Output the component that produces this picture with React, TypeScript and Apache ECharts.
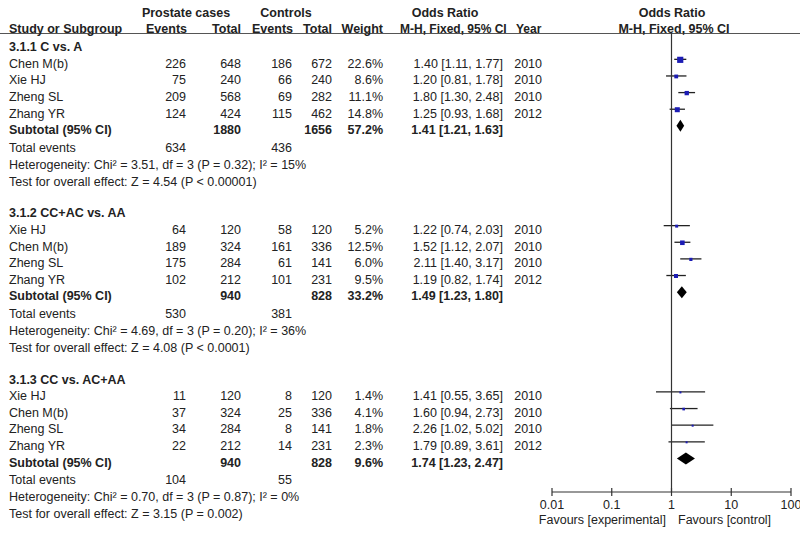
import React, { useEffect, useRef } from "react";
import * as echarts from "echarts";

// ---------- data ----------
const sectionTitles = ["3.1.1 C vs. A", "3.1.2 CC+AC vs. AA", "3.1.3 CC vs. AC+AA"];
const studyNames = [
  ["Chen M(b)", "Xie HJ", "Zheng SL", "Zhang YR"],
  ["Xie HJ", "Chen M(b)", "Zheng SL", "Zhang YR"],
  ["Xie HJ", "Chen M(b)", "Zheng SL", "Zhang YR"],
];
const caseEvents = [[226, 75, 209, 124], [64, 189, 175, 102], [11, 37, 34, 22]];
const caseTotals = [[648, 240, 568, 424], [120, 324, 284, 212], [120, 324, 284, 212]];
const ctrlEvents = [[186, 66, 69, 115], [58, 161, 61, 101], [8, 25, 8, 14]];
const ctrlTotals = [[672, 240, 282, 462], [120, 336, 141, 231], [120, 336, 141, 231]];
const weights = [[22.6, 8.6, 11.1, 14.8], [5.2, 12.5, 6.0, 9.5], [1.4, 4.1, 1.8, 2.3]];
const oddsRatios = [[1.40, 1.20, 1.80, 1.25], [1.22, 1.52, 2.11, 1.19], [1.41, 1.60, 2.26, 1.79]];
const ciLower = [[1.11, 0.81, 1.30, 0.93], [0.74, 1.12, 1.40, 0.82], [0.55, 0.94, 1.02, 0.89]];
const ciUpper = [[1.77, 1.78, 2.48, 1.68], [2.03, 2.07, 3.17, 1.74], [3.65, 2.73, 5.02, 3.61]];
const years = [[2010, 2010, 2010, 2012], [2010, 2010, 2010, 2012], [2010, 2010, 2010, 2012]];
const subtotalCaseTotals = [1880, 940, 940];
const subtotalCtrlTotals = [1656, 828, 828];
const subtotalWeights = [57.2, 33.2, 9.6];
const subtotalOR = [1.41, 1.49, 1.74];
const subtotalLower = [1.21, 1.23, 1.23];
const subtotalUpper = [1.63, 1.80, 2.47];
const totalCaseEvents = [634, 530, 104];
const totalCtrlEvents = [436, 381, 55];
const heterogeneity = [
  "Heterogeneity: Chi² = 3.51, df = 3 (P = 0.32); I² = 15%",
  "Heterogeneity: Chi² = 4.69, df = 3 (P = 0.20); I² = 36%",
  "Heterogeneity: Chi² = 0.70, df = 3 (P = 0.87); I² = 0%",
];
const overallEffect = [
  "Test for overall effect: Z = 4.54 (P < 0.00001)",
  "Test for overall effect: Z = 4.08 (P < 0.0001)",
  "Test for overall effect: Z = 3.15 (P = 0.002)",
];
const tickValues = [0.01, 0.1, 1, 10, 100];
const tickLabels = ["0.01", "0.1", "1", "10", "100"];

// ---------- layout ----------
const W = 800;
const H = 533;
const Y0 = 47; // pixel centre of first row
const RH = 16.63; // row height
const FOREST_SHIFT = -4.3; // markers sit slightly above text rows
const FOREST_TOP = 33;
const FOREST_BOTTOM = 492;
const FOREST_LEFT = 552;
const FOREST_WIDTH = 239;
const COL = { name: 9, caseEv: 186, caseTot: 241, ctrlEv: 292, ctrlTot: 332, weight: 383, or: 503, year: 542 };
const FONT = "'Liberation Sans', Arial, sans-serif";
const FS = 12.5;
const TEXT_COLOR = "#222";
const LINE_COLOR = "#333";
const rowOf = (px: number) => (px - Y0) / RH;

type Cell = { x: number; row: number; text: string; align: string; bold?: boolean; size?: number };

function buildCells(): Cell[] {
  const cells: Cell[] = [];
  const r1 = rowOf(13);
  const r2 = rowOf(29);
  cells.push({ x: 186, row: r1, text: "Prostate cases", align: "center", bold: true });
  cells.push({ x: 286, row: r1, text: "Controls", align: "center", bold: true });
  cells.push({ x: 445, row: r1, text: "Odds Ratio", align: "center", bold: true });
  cells.push({ x: 672, row: r1, text: "Odds Ratio", align: "center", bold: true });
  cells.push({ x: COL.name, row: r2, text: "Study or Subgroup", align: "left", bold: true });
  cells.push({ x: COL.caseEv + 1, row: r2, text: "Events", align: "right", bold: true });
  cells.push({ x: COL.caseTot, row: r2, text: "Total", align: "right", bold: true });
  cells.push({ x: COL.ctrlEv + 1, row: r2, text: "Events", align: "right", bold: true });
  cells.push({ x: COL.ctrlTot, row: r2, text: "Total", align: "right", bold: true });
  cells.push({ x: COL.weight, row: r2, text: "Weight", align: "right", bold: true });
  cells.push({ x: 400, row: r2, text: "M-H, Fixed, 95% CI", align: "left", bold: true, size: 12 });
  cells.push({ x: 516, row: r2, text: "Year", align: "left", bold: true, size: 12 });
  cells.push({ x: 674, row: r2, text: "M-H, Fixed, 95% CI", align: "center", bold: true });

  for (let s = 0; s < 3; s++) {
    const base = s * 10;
    cells.push({ x: COL.name, row: base, text: sectionTitles[s], align: "left", bold: true });
    for (let i = 0; i < 4; i++) {
      const r = base + 1 + i;
      cells.push({ x: COL.name, row: r, text: studyNames[s][i], align: "left" });
      cells.push({ x: COL.caseEv, row: r, text: String(caseEvents[s][i]), align: "right" });
      cells.push({ x: COL.caseTot, row: r, text: String(caseTotals[s][i]), align: "right" });
      cells.push({ x: COL.ctrlEv, row: r, text: String(ctrlEvents[s][i]), align: "right" });
      cells.push({ x: COL.ctrlTot, row: r, text: String(ctrlTotals[s][i]), align: "right" });
      cells.push({ x: COL.weight, row: r, text: weights[s][i].toFixed(1) + "%", align: "right" });
      cells.push({
        x: COL.or,
        row: r,
        text: `${oddsRatios[s][i].toFixed(2)} [${ciLower[s][i].toFixed(2)}, ${ciUpper[s][i].toFixed(2)}]`,
        align: "right",
      });
      cells.push({ x: COL.year, row: r, text: String(years[s][i]), align: "right" });
    }
    const rs = base + 5;
    cells.push({ x: COL.name, row: rs, text: "Subtotal (95% CI)", align: "left", bold: true });
    cells.push({ x: COL.caseTot, row: rs, text: String(subtotalCaseTotals[s]), align: "right", bold: true });
    cells.push({ x: COL.ctrlTot, row: rs, text: String(subtotalCtrlTotals[s]), align: "right", bold: true });
    cells.push({ x: COL.weight, row: rs, text: subtotalWeights[s].toFixed(1) + "%", align: "right", bold: true });
    cells.push({
      x: COL.or,
      row: rs,
      text: `${subtotalOR[s].toFixed(2)} [${subtotalLower[s].toFixed(2)}, ${subtotalUpper[s].toFixed(2)}]`,
      align: "right",
      bold: true,
    });
    const rt = base + 6.05;
    cells.push({ x: COL.name, row: rt, text: "Total events", align: "left" });
    cells.push({ x: COL.caseEv, row: rt, text: String(totalCaseEvents[s]), align: "right" });
    cells.push({ x: COL.ctrlEv, row: rt, text: String(totalCtrlEvents[s]), align: "right" });
    cells.push({ x: COL.name, row: base + 7.08, text: heterogeneity[s], align: "left" });
    cells.push({ x: COL.name, row: base + 8.1, text: overallEffect[s], align: "left" });
  }
  const rf = rowOf(520);
  cells.push({ x: 666, row: rf, text: "Favours [experimental]", align: "right" });
  cells.push({ x: 678, row: rf, text: "Favours [control]", align: "left" });
  return cells;
}

export default function App() {
  const ref = useRef<HTMLDivElement>(null);

  useEffect(() => {
    if (!ref.current) return;
    const chart = echarts.init(ref.current, undefined, { renderer: "svg" });
    const cells = buildCells();

    const studyData: number[][] = [];
    for (let s = 0; s < 3; s++) {
      for (let i = 0; i < 4; i++) {
        studyData.push([oddsRatios[s][i], ciLower[s][i], ciUpper[s][i], s * 10 + 1 + i, weights[s][i]]);
      }
    }
    const diamondData: number[][] = subtotalOR.map((v, s) => [v, subtotalLower[s], subtotalUpper[s], s * 10 + 5]);

    const tY0 = rowOf(0);
    const tY1 = rowOf(H);
    const fY0 = (FOREST_TOP - Y0 - FOREST_SHIFT) / RH;
    const fY1 = (FOREST_BOTTOM - Y0 - FOREST_SHIFT) / RH;

    const labelFor = (v: number) => {
      let best = 0;
      let bd = Infinity;
      tickValues.forEach((t, i) => {
        const d = Math.abs(Math.log10(v) - Math.log10(t));
        if (d < bd) {
          bd = d;
          best = i;
        }
      });
      return tickLabels[best];
    };

    chart.setOption({
      animation: false,
      backgroundColor: "#fff",
      grid: [
        { left: 0, top: 0, width: W, height: H, outerBoundsMode: "none" },
        {
          left: FOREST_LEFT,
          top: FOREST_TOP,
          width: FOREST_WIDTH,
          height: FOREST_BOTTOM - FOREST_TOP,
          outerBoundsMode: "none",
        },
      ],
      xAxis: [
        { gridIndex: 0, type: "value", min: 0, max: W, show: false },
        {
          gridIndex: 1,
          type: "log",
          logBase: 10,
          min: 0.01,
          max: 100,
          position: "bottom",
          axisLine: { show: false, onZero: false },
          axisTick: { show: false },
          axisLabel: { show: true, margin: 6, fontFamily: FONT, fontSize: FS, color: TEXT_COLOR, formatter: labelFor },
          splitLine: { show: false },
          minorTick: { show: false },
        },
      ],
      yAxis: [
        { gridIndex: 0, type: "value", inverse: true, min: tY0, max: tY1, show: false },
        { gridIndex: 1, type: "value", inverse: true, min: fY0, max: fY1, show: false },
      ],
      graphic: [
        {
          type: "line",
          shape: { x1: 0, y1: 33.5, x2: W, y2: 33.5 },
          style: { stroke: "#555", lineWidth: 1.2 },
          silent: true,
        },
      ],
      series: [
        {
          type: "custom",
          xAxisIndex: 0,
          yAxisIndex: 0,
          silent: true,
          data: cells.map((c) => [c.x, c.row]),
          renderItem: (params: any, api: any) => {
            const c = cells[params.dataIndex];
            const p = api.coord([c.x, c.row]);
            return {
              type: "text",
              x: p[0],
              y: p[1],
              style: {
                text: c.text,
                align: c.align,
                verticalAlign: "middle",
                fontFamily: FONT,
                fontSize: c.size || FS,
                fontWeight: c.bold ? "bold" : "normal",
                fill: TEXT_COLOR,
              },
            };
          },
        },
        // reference line at OR = 1
        {
          type: "line",
          xAxisIndex: 1,
          yAxisIndex: 1,
          silent: true,
          clip: false,
          symbol: "none",
          lineStyle: { color: LINE_COLOR, width: 1.2 },
          data: [
            [1, fY0],
            [1, fY1],
          ],
        },
        // bottom axis line
        {
          type: "line",
          xAxisIndex: 1,
          yAxisIndex: 1,
          silent: true,
          clip: false,
          symbol: "none",
          lineStyle: { color: LINE_COLOR, width: 1.2 },
          data: [
            [tickValues[0], fY1],
            [tickValues[tickValues.length - 1], fY1],
          ],
        },
        // axis ticks crossing the axis line
        {
          type: "custom",
          xAxisIndex: 1,
          yAxisIndex: 1,
          silent: true,
          clip: false,
          data: tickValues.map((v) => [v, fY1]),
          renderItem: (params: any, api: any) => {
            const p = api.coord([api.value(0), api.value(1)]);
            return {
              type: "line",
              shape: { x1: p[0], y1: p[1] - 4, x2: p[0], y2: p[1] + 4 },
              style: { stroke: LINE_COLOR, lineWidth: 1.2 },
            };
          },
        },
        {
          type: "custom",
          xAxisIndex: 1,
          yAxisIndex: 1,
          silent: true,
          encode: { x: [0, 1, 2], y: 3 },
          data: studyData,
          renderItem: (params: any, api: any) => {
            const or = api.value(0);
            const lo = api.value(1);
            const hi = api.value(2);
            const row = api.value(3);
            const w = api.value(4);
            const pc = api.coord([or, row]);
            const pl = api.coord([lo, row]);
            const ph = api.coord([hi, row]);
            const side = Math.max(2, 1.3 * Math.sqrt(w));
            return {
              type: "group",
              children: [
                {
                  type: "line",
                  shape: { x1: pl[0], y1: pl[1], x2: ph[0], y2: ph[1] },
                  style: { stroke: "#222", lineWidth: 1.3 },
                },
                {
                  type: "rect",
                  shape: { x: pc[0] - side / 2, y: pc[1] - side / 2 + 0.5, width: side, height: side },
                  style: { fill: "#1c1cb4" },
                },
              ],
            };
          },
        },
        {
          type: "custom",
          xAxisIndex: 1,
          yAxisIndex: 1,
          silent: true,
          encode: { x: [0, 1, 2], y: 3 },
          data: diamondData,
          renderItem: (params: any, api: any) => {
            const or = api.value(0);
            const lo = api.value(1);
            const hi = api.value(2);
            const row = api.value(3);
            const pc = api.coord([or, row]);
            const pl = api.coord([lo, row]);
            const ph = api.coord([hi, row]);
            const h = 6;
            return {
              type: "polygon",
              shape: {
                points: [
                  [pl[0], pl[1]],
                  [pc[0], pc[1] - h],
                  [ph[0], ph[1]],
                  [pc[0], pc[1] + h],
                ],
              },
              style: { fill: "#000" },
            };
          },
        },
      ],
    });

    return () => chart.dispose();
  }, []);

  return (
    <div
      ref={ref}
      style={{ position: "fixed", left: 0, top: 0, width: W, height: H, background: "#fff" }}
    />
  );
}
